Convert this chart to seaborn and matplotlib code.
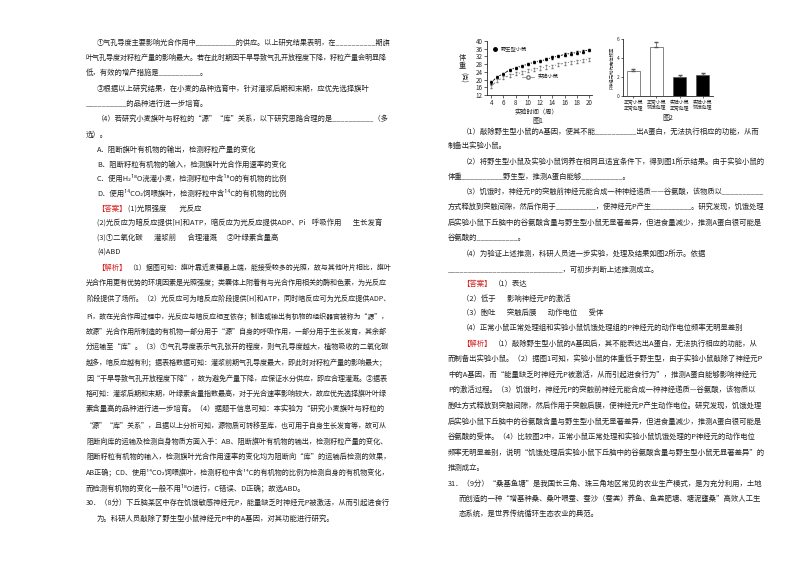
import matplotlib
matplotlib.use("Agg")
import matplotlib.pyplot as plt
import seaborn as sns
import pandas as pd
import numpy as np

sns.set_style("ticks")
plt.rcParams['font.family'] = ['Noto Sans CJK SC', 'DejaVu Sans']

weeks = [4,5,6,7,8,9,10,11,12,13,14,15,16,17,18,19,20]
wild = [18.5,21.5,23,25,26,27,28,29,29.5,30.5,31.5,32.2,33,33.5,34,34.5,35.5]
exper = [16.5,19.5,21,22,23,23.5,24.5,25.2,26,26.5,27,27.8,28.5,29,29.5,30,30.5]
wild_err = [0.6]*17
exper_err = [0.8]*17
bar_labels = ["正常小鼠\n正常处理", "正常小鼠\n饥饿处理", "实验小鼠\n正常处理", "实验小鼠\n饥饿处理"]
bar_vals = [2.6, 5.2, 2.0, 2.25]
bar_err = [0.2, 0.5, 0.2, 0.2]
bar_colors = ["white", "white", "black", "black"]

W, H = 800, 566
fig = plt.figure(figsize=(8, 5.66), dpi=100)
renderer = fig.canvas.get_renderer()
fs = 5.3

def T(x, y, s, color="#222222", size=fs, right=None, **kw):
    t = fig.text(x / W, 1 - y / H, s, fontsize=size, color=color, va="center", ha="left", **kw)
    if right is not None:
        w = t.get_window_extent(renderer).width
        if x + w > right:
            t.set_fontsize(size * (right - x) / w)
    return t

def L(x, y, s, right):
    for tag in ("【答案】", "【解析】"):
        if s.startswith(tag):
            t = T(x, y, tag, color="#d42020")
            tw = t.get_window_extent(renderer).width
            T(x + tw + 2, y, s[len(tag):], right=right)
            return
    T(x, y, s, right=right)

left = [
 (97, 43, "①气孔导度主要影响光合作用中__________的供应。以上研究结果表明，在__________期旗"),
 (86, 58, "叶气孔导度对籽粒产量的影响最大。若在此时期因干旱导致气孔开放程度下降，籽粒产量会明显降"),
 (86, 73, "低，有效的增产措施是__________。"),
 (97, 89, "③根据以上研究结果，在小麦的品种选育中，针对灌浆后期和末期，应优先选择旗叶"),
 (86, 104, "__________的品种进行进一步培育。"),
 (97, 119, "（4）若研究小麦旗叶与籽粒的“源”“库”关系，以下研究思路合理的是__________（多"),
 (86, 135, "选）。"),
 (97, 150, "A．阻断旗叶有机物的输出，检测籽粒产量的变化"),
 (97, 165, "B．阻断籽粒有机物的输入，检测旗叶光合作用速率的变化"),
 (97, 179, "C．使用H₂¹⁸O浇灌小麦，检测籽粒中含¹⁸O的有机物的比例"),
 (97, 194, "D．使用¹⁴CO₂饲喂旗叶，检测籽粒中含¹⁴C的有机物的比例"),
 (97, 209, "【答案】(1)光照强度        光反应"),
 (97, 224, "(2)光反应为暗反应提供[H]和ATP，暗反应为光反应提供ADP、Pi    呼吸作用       生长发育"),
 (97, 239, "(3)①二氧化碳       灌浆前       合理灌溉      ②叶绿素含量高"),
 (97, 253, "(4)ABD"),
 (97, 268, "【解析】（1）据图可知：旗叶靠近麦穗最上端，能接受较多的光照，故与其他叶片相比，旗叶"),
 (86, 282, "光合作用更有优势的环境因素是光照强度；类囊体上附着有与光合作用相关的酶和色素，为光反应"),
 (86, 299, "阶段提供了场所。（2）光反应可为暗反应阶段提供[H]和ATP，同时暗反应可为光反应提供ADP、"),
 (86, 316, "Pi，故在光合作用过程中，光反应与暗反应相互依存；制造或输出有机物的组织器官被称为“源”，"),
 (86, 332, "故源”光合作用所制造的有机物一部分用于“源”自身的呼吸作用，一部分用于生长发育，其余部"),
 (86, 347, "分运输至“库”。（3）①气孔导度表示气孔张开的程度，则气孔导度越大，植物吸收的二氧化碳"),
 (86, 362, "越多，暗反应越有利；据表格数据可知：灌浆前期气孔导度最大，即此时对籽粒产量的影响最大；"),
 (86, 379, "因“干旱导致气孔开放程度下降”，故为避免产量下降，应保证水分供应，即应合理灌溉。②据表"),
 (86, 394, "格可知：灌浆后期和末期，叶绿素含量指数最高，对于光合速率影响较大，故应优先选择旗叶叶绿"),
 (86, 409, "素含量高的品种进行进一步培育。（4）据题干信息可知：本实验为“研究小麦旗叶与籽粒的"),
 (86, 426, "“源”“库”关系”，且据以上分析可知，源物质可转移至库，也可用于自身生长发育等，故可从"),
 (86, 442, "阻断向库的运输及检测自身物质方面入手：AB、阻断旗叶有机物的输出，检测籽粒产量的变化、"),
 (86, 457, "阻断籽粒有机物的输入，检测旗叶光合作用速率的变化均为阻断向“库”的运输后检测的效果，"),
 (86, 473, "AB正确；CD、使用¹⁴CO₂饲喂旗叶，检测籽粒中含¹⁴C的有机物的比例为检测自身的有机物变化，"),
 (86, 488, "而检测有机物的变化一般不用¹⁸O进行，C错误、D正确；故选ABD。"),
 (86, 503, "30．（8分）下丘脑某区中存在饥饿敏感神经元P，能量缺乏时神经元P被激活，从而引起进食行"),
 (97, 519, "为。科研人员敲除了野生型小鼠神经元P中的A基因，对其功能进行研究。"),
]
right = [
 (462, 132, "（1）敲除野生型小鼠的A基因，使其不能__________出A蛋白，无法执行相应的功能，从而"),
 (448, 146, "制备出实验小鼠。"),
 (462, 162, "（2）将野生型小鼠及实验小鼠饲养在相同且适宜条件下，得到图1所示结果。由于实验小鼠的"),
 (448, 177, "体重__________野生型，推测A蛋白能够__________。"),
 (462, 192, "（3）饥饿时，神经元P的突触前神经元能合成一种神经递质——谷氨酸，该物质以__________"),
 (448, 207, "方式释放到突触间隙，然后作用于__________，使神经元P产生__________。研究发现，饥饿处理"),
 (448, 223, "后实验小鼠下丘脑中的谷氨酸含量与野生型小鼠无显著差异，但进食量减少，推测A蛋白很可能是"),
 (448, 238, "谷氨酸的__________。"),
 (462, 254, "（4）为验证上述推测，科研人员进一步实验，处理及结果如图2所示。依据"),
 (448, 270, "____________________________，可初步判断上述推测成立。"),
 (462, 284, "【答案】（1）表达"),
 (462, 299, "（2）低于       影响神经元P的激活"),
 (462, 313, "（3）胞吐       突触后膜       动作电位       受体"),
 (462, 328, "（4）正常小鼠正常处理组和实验小鼠饥饿处理组的P神经元的动作电位频率无明显差别"),
 (462, 344, "【解析】（1）敲除野生型小鼠的A基因后，其不能表达出A蛋白，无法执行相应的功能，从"),
 (448, 359, "而制备出实验小鼠。（2）据图1可知，实验小鼠的体重低于野生型，由于实验小鼠敲除了神经元P"),
 (448, 375, "中的A基因，而“能量缺乏时神经元P被激活，从而引起进食行为”，推测A蛋白能够影响神经元"),
 (448, 390, "P的激活过程。（3）饥饿时，神经元P的突触前神经元能合成一种神经递质—谷氨酸，该物质以"),
 (448, 406, "胞吐方式释放到突触间隙，然后作用于突触后膜，使神经元P产生动作电位。研究发现，饥饿处理"),
 (448, 422, "后实验小鼠下丘脑中的谷氨酸含量与野生型小鼠无显著差异，但进食量减少，推测A蛋白很可能是"),
 (448, 437, "谷氨酸的受体。（4）比较图2中，正常小鼠正常处理和实验小鼠饥饿处理的P神经元的动作电位"),
 (448, 453, "频率无明显差别，说明“饥饿处理后实验小鼠下丘脑中的谷氨酸含量与野生型小鼠无显著差异”的"),
 (448, 468, "推测成立。"),
 (448, 484, "31．（9分）“桑基鱼塘”是我国长三角、珠三角地区常见的农业生产模式，是为充分利用，土地"),
 (459, 499, "而创造的一种“增基种桑、桑叶喂蚕、蚕沙（蚕粪）养鱼、鱼粪肥塘、塘泥壅桑”高效人工生"),
 (459, 514, "态系统，是世界传统循环生态农业的典范。"),
]
for x, y, s in left:
    L(x, y, s, 390)
for x, y, s in right:
    L(x, y, s, 765)

# Figure 1
ax1 = fig.add_axes([487 / W, 1 - 95 / H, 105 / W, 54 / H])
df = pd.DataFrame({"week": weeks * 2, "w": wild + exper,
                   "g": ["野生型小鼠"] * 17 + ["实验小鼠"] * 17})
sns.lineplot(data=df, x="week", y="w", hue="g", style="g", markers=["o", "o"],
             dashes=False, palette=["black", "#777777"], markersize=3, linewidth=0.6,
             legend=False, ax=ax1)
lines = ax1.get_lines()
lines[1].set_markerfacecolor("white")
ax1.errorbar(weeks, wild, yerr=wild_err, fmt="none", ecolor="black", elinewidth=0.4, capsize=1)
ax1.errorbar(weeks, exper, yerr=exper_err, fmt="none", ecolor="#777777", elinewidth=0.4, capsize=1)
ax1.set_xlim(3.3, 20.5); ax1.set_ylim(12, 40)
ax1.set_xticks(range(4, 21, 2)); ax1.set_yticks(range(12, 41, 4))
ax1.tick_params(labelsize=4.5, length=2, width=0.5, pad=1)
ax1.set_xlabel(""); ax1.set_ylabel("")
for s in ax1.spines.values(): s.set_linewidth(0.6)
sns.despine(ax=ax1)
ax1.plot([4.6], [36], "o", color="black", markersize=2.5)
ax1.text(5.6, 36, "野生型小鼠", fontsize=3.8, va="center")
ax1.plot([9, 11], [21.5, 21.5], "-", color="#777777", lw=0.5)
ax1.plot([10], [21.5], "o", mfc="white", mec="#777777", markersize=2.5)
ax1.text(11.6, 21.5, "实验小鼠", fontsize=3.8, va="center")
T(459, 58, "体", size=5.2)
T(459, 66, "重", size=5.2)
fig.text(463 / W, 1 - 77 / H, "(克)", fontsize=4.6, rotation=-90, ha="center", va="center")
T(515, 112, "实验时间（周）", size=4.5)
T(532, 121, "图1", size=5)

# Figure 2
ax2 = fig.add_axes([623 / W, 1 - 96 / H, 90 / W, 57 / H])
bdf = pd.DataFrame({"c": bar_labels, "v": bar_vals})
sns.barplot(data=bdf, x="c", y="v", hue="c", palette=bar_colors, edgecolor="#555555",
            linewidth=0.5, width=0.55, legend=False, ax=ax2)
ax2.errorbar(range(4), bar_vals, yerr=[[0] * 4, bar_err], fmt="none", ecolor="#555555",
             elinewidth=0.5, capsize=1.5)
ax2.set_ylim(0, 6); ax2.set_yticks([0, 2, 4, 6])
ax2.tick_params(labelsize=3.5, length=1.5, width=0.5, pad=1)
ax2.set_xlabel(""); ax2.set_ylabel("P神经元动作电位频率", fontsize=3.2, labelpad=2)
for s in ax2.spines.values(): s.set_linewidth(0.6)
sns.despine(ax=ax2)
T(662, 118, "图2", size=5)

fig.savefig("out.png", dpi=100)
